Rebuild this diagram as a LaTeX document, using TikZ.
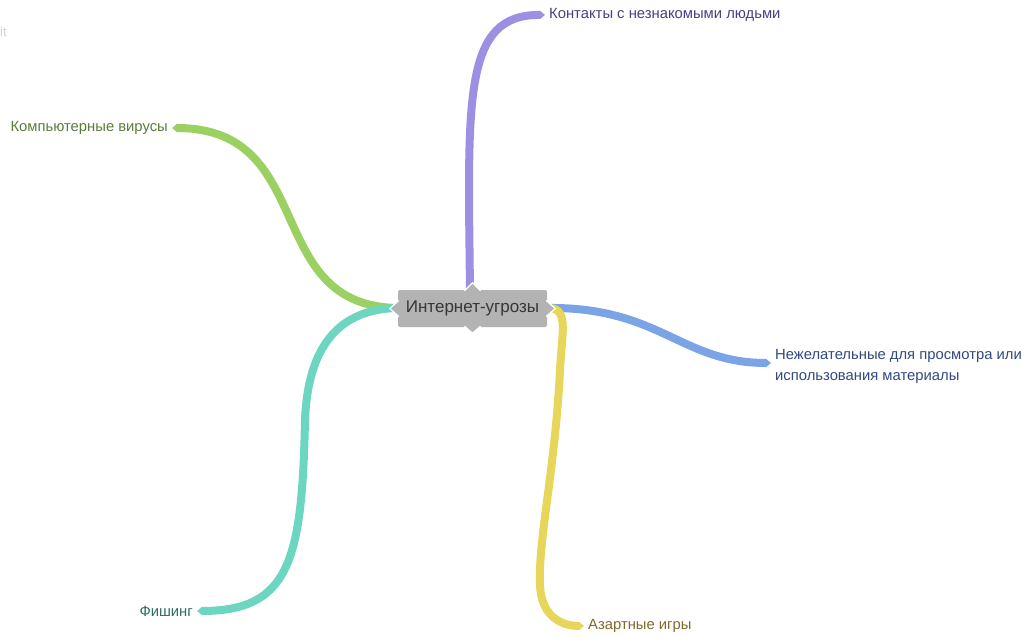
\documentclass[tikz,border=0pt]{standalone}
\usepackage{fontspec}
\setmainfont{Liberation Sans}
\usepackage{xcolor}
\usepackage{tikz}
\usetikzlibrary{arrows.meta}

\definecolor{hubgray}{HTML}{B3B3B3}
\definecolor{hubtext}{HTML}{363636}
\definecolor{purpline}{HTML}{9D90E3}
\definecolor{purptext}{HTML}{4A3D80}
\definecolor{greenline}{HTML}{9BD163}
\definecolor{greentext}{HTML}{5A7C3B}
\definecolor{tealline}{HTML}{6DD6C1}
\definecolor{tealtext}{HTML}{2F6D60}
\definecolor{blueline}{HTML}{7AA4E6}
\definecolor{bluetext}{HTML}{30497F}
\definecolor{yellline}{HTML}{E8D65B}
\definecolor{yelltext}{HTML}{7C6B2B}

\tikzset{
  branch/.style={line width=8pt, -{Triangle[length=5pt,width=8pt]}},
  topic/.style={inner xsep=4pt, inner ysep=0pt, font=\fontsize{14.8}{21}\selectfont, align=left},
}

\begin{document}
\begin{tikzpicture}[x=1pt,y=-1pt]
\useasboundingbox (0,0) rectangle (1030,637);

\node[text=gray!35, font=\fontsize{13}{15}\selectfont, anchor=west, inner sep=0pt] (mark) at (0,32) {it};

% topics
\node[topic, text=purptext, anchor=west] (contacts) at (545,15) {Контакты с незнакомыми людьми};
\node[topic, text=greentext, anchor=east] (viruses) at (172,128) {Компьютерные вирусы};
\node[topic, text=bluetext, anchor=west] (content) at (771,366) {Нежелательные для просмотра или\\использования материалы};
\node[topic, text=tealtext, anchor=east] (phishing) at (197,611) {Фишинг};
\node[topic, text=yelltext, anchor=west] (gambling) at (584,626) {Азартные игры};

\coordinate (hubtop) at (470,292);
\coordinate (hubleft) at (400,308);
\coordinate (hubright) at (545,308);

% branches
\draw[branch, purpline] (hubtop) .. controls (468,100) and (462,14) .. (contacts.west);
\draw[branch, greenline] (hubleft) .. controls (260,308) and (320,128) .. (viruses.east);
\draw[branch, tealline] (hubleft) .. controls (340,308) and (308,345) .. (305,420)
  .. controls (302,560) and (290,611) .. (phishing.east);
\draw[branch, blueline] (hubright) .. controls (660,306) and (680,363) .. (content.west |- 0,363);
\draw[branch, yellline] (hubright) .. controls (570,306) and (562,330) .. (560,370)
  .. controls (555,470) and (538,540) .. (540,585)
  .. controls (541,615) and (560,626) .. (gambling.west);

% central topic
\node[fill=hubgray, text=hubtext, rounded corners=2pt, minimum width=149pt, minimum height=37pt,
      font=\fontsize{17}{20}\selectfont] (hub) at (472.5,308.5) {Интернет-угрозы};
\fill[hubgray, draw=white, line width=1.2pt] (hub.west) ++(1,-8) -- ++(-9,8) -- ++(9,8);
\fill[hubgray, draw=white, line width=1.2pt] (hub.east) ++(-1,-8) -- ++(9,8) -- ++(-9,8);
\fill[hubgray, draw=white, line width=1.2pt] (hub.north) ++(-8,1) -- ++(8,-8) -- ++(8,8);
\fill[hubgray, draw=white, line width=1.2pt] (hub.south) ++(-8,-1) -- ++(8,7) -- ++(8,-7);
\fill[hubgray] (hub.west) ++(1.5,-7) rectangle ++(4,14);
\fill[hubgray] (hub.east) ++(-1.5,-7) rectangle ++(-4,14);
\fill[hubgray] (hub.north) ++(-7,1.5) rectangle ++(14,4);
\fill[hubgray] (hub.south) ++(-7,-1.5) rectangle ++(14,-4);
\end{tikzpicture}
\end{document}
